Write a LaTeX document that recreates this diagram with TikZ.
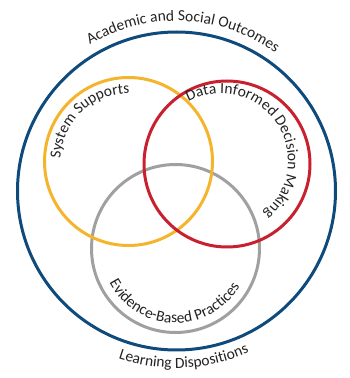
\documentclass[tikz,border=0pt]{standalone}
\usepackage{fontspec}
\setmainfont{Carlito}
\usetikzlibrary{decorations.text}

\definecolor{outcomeblue}{HTML}{0E4A7B}
\definecolor{supportyellow}{HTML}{F5B42C}
\definecolor{datared}{HTML}{C8202F}
\definecolor{practicegray}{HTML}{A0A0A0}
\definecolor{labelgray}{HTML}{222222}

\newcommand{\arcfont}{\fontsize{15.5}{18}\selectfont}

\begin{document}
\begin{tikzpicture}[x=1pt, y=1pt]
    \tikzset{ring/.style={line width=3pt},
             arclabel/.style={decorate, decoration={text along path, text align=center, text color=labelgray}}}
    \useasboundingbox (0,0) rectangle (350,378);

    % centres of the rings
    \coordinate (outer) at (176.5,187);
    \coordinate (support) at (128.5,216.5);
    \coordinate (data) at (227,214);
    \coordinate (datatext) at (220.6,217);
    \coordinate (practice) at (175.5,129.5);

    % rings
    \draw[ring, outcomeblue] (outer) circle[radius=159];
    \draw[ring, practicegray] (practice) circle[radius=84];
    \draw[ring, supportyellow] (support) circle[radius=84];
    \draw[ring, datared] (data) circle[radius=83];

    % labels along the rings
    \path[arclabel, decoration={text={|\arcfont|Academic and Social Outcomes}}]
        ([shift={(140:170)}]outer) arc[start angle=140, end angle=35, radius=170];
    \path[arclabel, decoration={text={|\arcfont|Learning Dispositions}}]
        ([shift={(232:177)}]outer) arc[start angle=232, end angle=313, radius=177];
    \path[arclabel, decoration={text={|\arcfont|System Supports}}]
        ([shift={(205:68)}]support) arc[start angle=205, end angle=62, radius=68];
    \path[arclabel, decoration={text={|\arcfont|Data Informed Decision Making}}]
        ([shift={(130:67.4)}]datatext) arc[start angle=130, end angle=-62, radius=67.4];
    \path[arclabel, decoration={text={|\arcfont|Evidence-Based Practices}}]
        ([shift={(185:74.5)}]practice) arc[start angle=185, end angle=352, radius=74.5];
\end{tikzpicture}
\end{document}
